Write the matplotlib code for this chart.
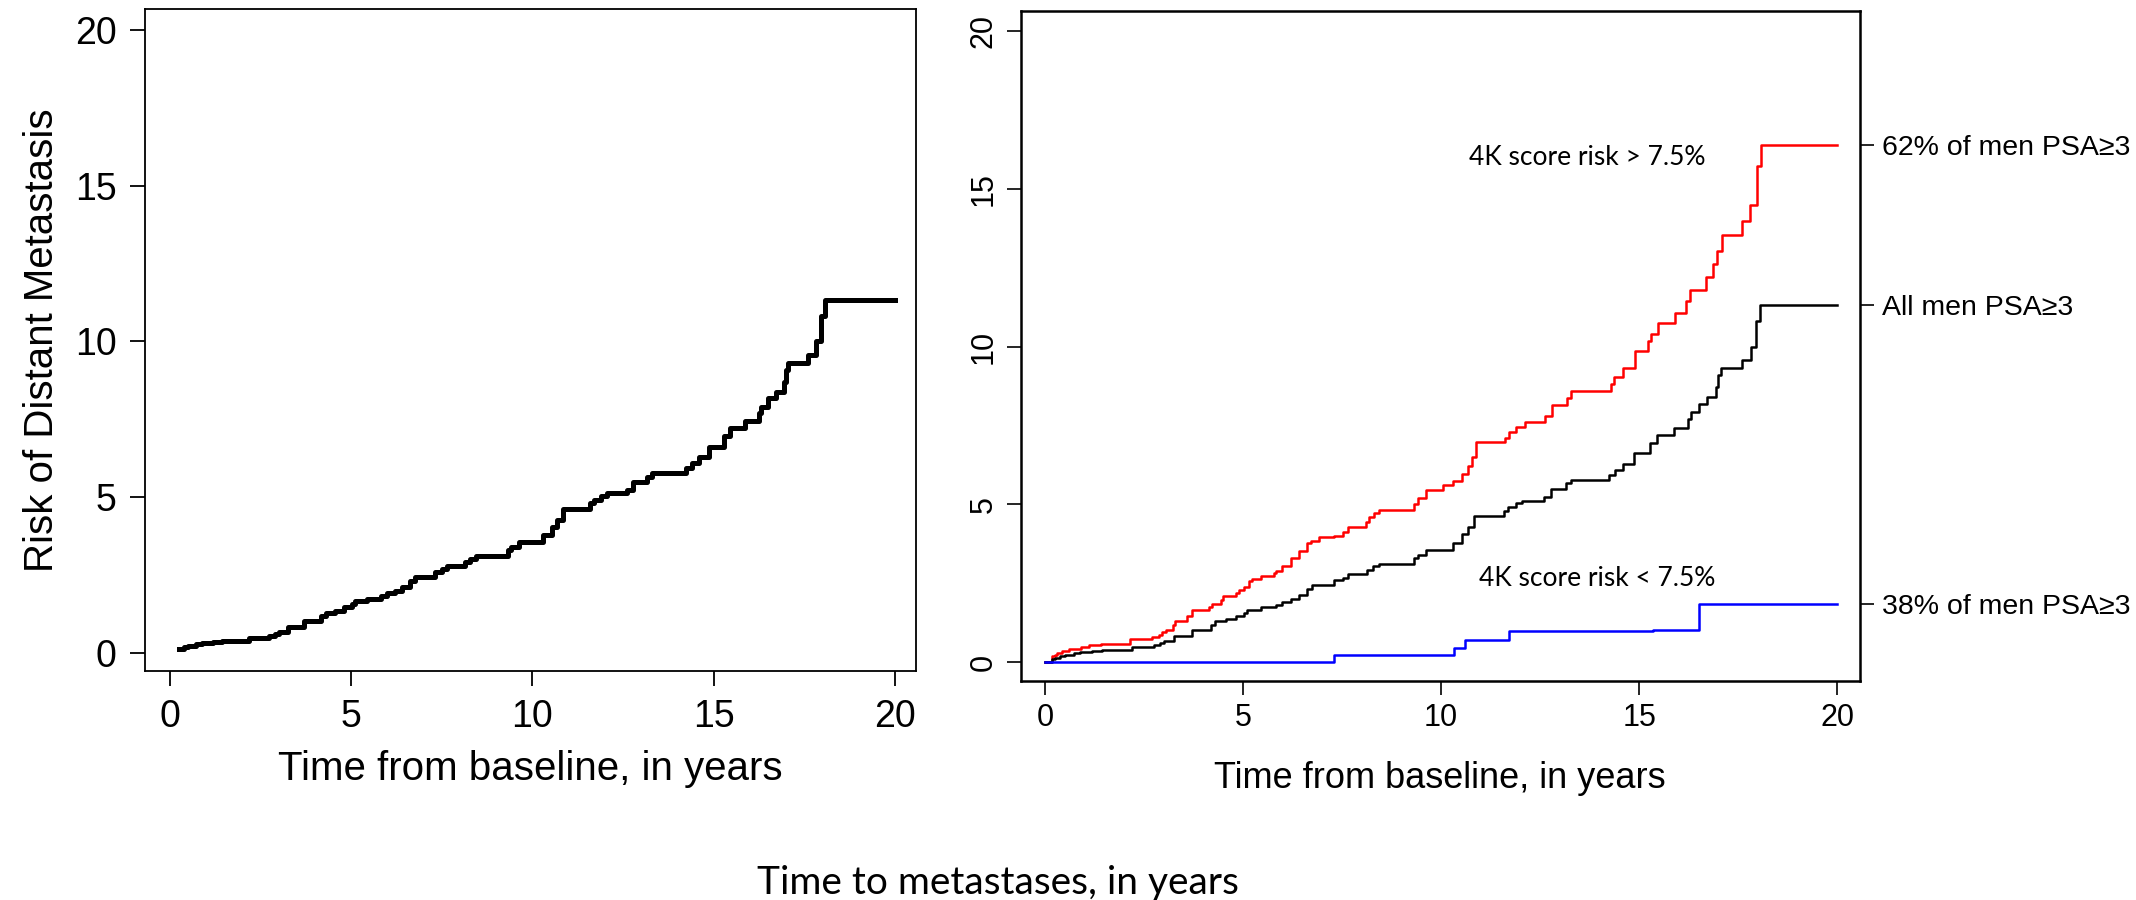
import numpy as np
import matplotlib
matplotlib.use('Agg')
import matplotlib.pyplot as plt

plt.rcParams['font.family'] = ['Liberation Sans', 'DejaVu Sans']

# cumulative risk of distant metastasis (%)
all_t = [0, 0.17, 0.25, 0.38, 0.51, 0.72, 0.89, 1.18, 1.43, 2.19, 2.74, 2.91, 3.0, 3.25,
         3.71, 4.18, 4.3, 4.56, 4.81, 5.02, 5.1, 5.44, 5.82, 5.99, 6.2, 6.41, 6.62, 6.75,
         7.3, 7.51, 7.64, 8.14, 8.27, 8.44, 9.32, 9.41, 9.62, 10.3, 10.54, 10.68, 10.84,
         11.6, 11.7, 11.9, 12.05, 12.6, 12.77, 13.15, 13.29, 14.25, 14.39, 14.59, 14.87,
         15.28, 15.46, 15.87, 16.24, 16.31, 16.51, 16.72, 16.93, 17.0, 17.06, 17.61, 17.82,
         17.95, 18.06, 20]
all_v = [0, 0.1, 0.13, 0.18, 0.23, 0.29, 0.32, 0.35, 0.39, 0.48, 0.53, 0.6, 0.68, 0.83,
         1.02, 1.18, 1.29, 1.36, 1.47, 1.57, 1.66, 1.74, 1.82, 1.92, 2.0, 2.13, 2.31, 2.45,
         2.61, 2.68, 2.79, 2.93, 3.03, 3.12, 3.3, 3.4, 3.56, 3.78, 4.05, 4.27, 4.62,
         4.8, 4.91, 5.04, 5.12, 5.23, 5.5, 5.66, 5.77, 5.93, 6.09, 6.28, 6.62,
         6.95, 7.21, 7.43, 7.7, 7.91, 8.18, 8.39, 8.71, 9.09, 9.32, 9.57, 10.0,
         10.8, 11.32, 11.32]

high_t = [0, 0.17, 0.25, 0.3, 0.42, 0.6, 0.9, 1.1, 1.4, 2.15, 2.7, 2.87, 2.95, 3.04, 3.22,
          3.29, 3.59, 3.71, 4.13, 4.22, 4.43, 4.5, 4.81, 4.89, 5.02, 5.15, 5.23, 5.44, 5.78,
          5.82, 5.99, 6.2, 6.41, 6.62, 6.71, 6.92, 7.3, 7.51, 7.64, 8.1, 8.19, 8.31, 8.44,
          9.32, 9.41, 9.62, 10.04, 10.3, 10.52, 10.68, 10.78, 10.88, 11.61, 11.72, 11.89,
          12.11, 12.62, 12.81, 13.18, 13.29, 14.3, 14.37, 14.6, 14.89, 15.23, 15.31, 15.48,
          15.9, 16.19, 16.29, 16.68, 16.87, 16.97, 17.1, 17.61, 17.81, 17.98, 18.09, 20]
high_v = [0, 0.18, 0.24, 0.29, 0.35, 0.4, 0.48, 0.53, 0.57, 0.73, 0.79, 0.85, 0.94, 1.02, 1.18,
          1.31, 1.45, 1.66, 1.76, 1.85, 1.98, 2.1, 2.19, 2.29, 2.38, 2.56, 2.64, 2.72, 2.82,
          2.89, 3.05, 3.3, 3.51, 3.77, 3.85, 3.95, 4.01, 4.11, 4.28, 4.45, 4.6, 4.72, 4.83,
          5.0, 5.2, 5.46, 5.62, 5.74, 5.95, 6.2, 6.5, 6.97, 7.1, 7.28, 7.45,
          7.6, 7.8, 8.15, 8.38, 8.58, 8.8, 9.05, 9.32, 9.87, 10.17, 10.41, 10.75,
          11.06, 11.43, 11.8, 12.2, 12.6, 13.02, 13.52, 13.99, 14.5, 15.73, 16.38, 16.38]

low_t = [0, 7.3, 10.32, 10.6, 11.72, 15.34, 16.52, 20]
low_v = [0, 0.21, 0.45, 0.71, 1.0, 1.03, 1.83, 1.83]

ticks = [0, 5, 10, 15, 20]
side_labels = ['62% of men PSA\u22653', 'All men PSA\u22653', '38% of men PSA\u22653']
side_vals = [high_v[-1], all_v[-1], low_v[-1]]

fig = plt.figure(figsize=(21.36, 9), dpi=100)

# left panel: all men
ax1 = fig.add_axes([0.0677, 0.2544, 0.3611, 0.7356])
ax1.step(all_t[2:], all_v[2:], where='post', color='black', lw=3.6)
ax1.set_xlim(-0.70, 20.58)
ax1.set_ylim(-0.58, 20.67)
ax1.set_xticks(ticks)
ax1.set_yticks(ticks)
ax1.tick_params(direction='out', length=11, width=1.3, labelsize=27, pad=9)
for s in ax1.spines.values():
    s.set_linewidth(1.3)
ax1.set_xlabel('Time from baseline, in years', fontsize=29, labelpad=11)
ax1.set_ylabel('Risk of Distant Metastasis', fontsize=29, labelpad=10)

# right panel: split by 4K score
ax2 = fig.add_axes([0.4778, 0.2433, 0.3930, 0.7444])
ax2.step(high_t, high_v, where='post', color='#ff0000', lw=1.8)
ax2.step(all_t, all_v, where='post', color='black', lw=1.8)
ax2.step(low_t, low_v, where='post', color='#0000ff', lw=1.8)
ax2.set_xlim(-0.62, 20.58)
ax2.set_ylim(-0.6, 20.63)
ax2.set_xticks(ticks)
ax2.set_yticks(ticks)
ax2.tick_params(direction='out', length=10, width=1.2, labelsize=22, pad=6)
ax2.tick_params(axis='y', labelrotation=90)
for lab in ax2.get_yticklabels():
    lab.set_va('center')
for s in ax2.spines.values():
    s.set_linewidth(1.8)
ax2.set_xlabel('Time from baseline, in years', fontsize=26, labelpad=20)

ax3 = ax2.twinx()
ax3.set_ylim(ax2.get_ylim())
ax3.set_yticks(side_vals)
ax3.set_yticklabels(side_labels)
ax3.tick_params(direction='out', length=10, width=1.2, labelsize=20.5, pad=6)
for s in ax3.spines.values():
    s.set_visible(False)

ax2.text(13.7, 16.0, '4K score risk > 7.5%', fontsize=19, family='Lato',
         ha='center', va='center')
ax2.text(13.95, 2.65, '4K score risk < 7.5%', fontsize=19, family='Lato',
         ha='center', va='center')

fig.text(0.467, 6 / 900, 'Time to metastases, in years', fontsize=28, family='Lato',
         ha='center', va='baseline')

fig.savefig('out.png', dpi=100, facecolor='white')
